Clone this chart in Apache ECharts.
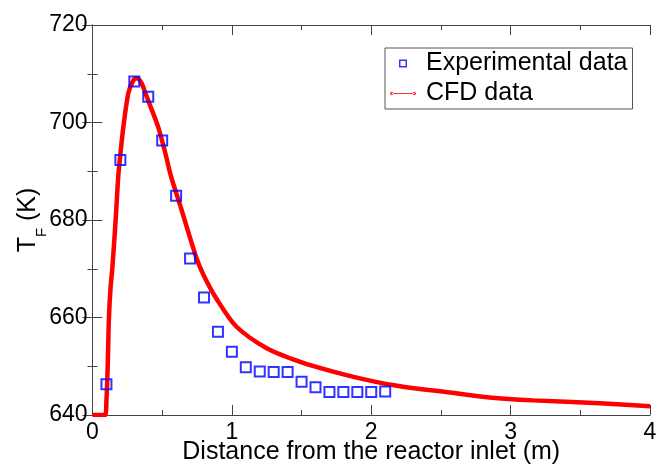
<!DOCTYPE html>
<html>
<head>
<meta charset="utf-8">
<script src="https://cdn.jsdelivr.net/npm/echarts@6/dist/echarts.min.js"></script>
<style>html,body{margin:0;padding:0;background:#fff}#c{width:658px;height:466px}</style>
</head>
<body>
<div id="c"></div>
<script>
var expX = [0.1, 0.2, 0.3, 0.4, 0.5, 0.6, 0.7, 0.8, 0.9, 1.0, 1.1, 1.2, 1.3, 1.4, 1.5, 1.6, 1.7, 1.8, 1.9, 2.0, 2.1];
var expY = [646.3, 692.3, 708.4, 705.3, 696.3, 685.0, 672.1, 664.1, 657.1, 653.0, 649.8, 648.9, 648.8, 648.8, 646.8, 645.7, 644.7, 644.7, 644.7, 644.7, 644.8];
var cfdX = [0, 0.09, 0.1, 0.109, 0.118, 0.13, 0.142, 0.166, 0.185, 0.2, 0.221, 0.257, 0.29, 0.317, 0.35, 0.38, 0.42, 0.472, 0.52, 0.563, 0.628, 0.747, 0.8, 0.886, 1.03, 1.25, 1.49, 1.727, 1.967, 2.206, 2.565, 2.85, 3.16, 3.64, 4.0];
var cfdY = [640, 640, 643, 650, 660, 666.3, 670, 680, 689, 693.5, 699, 706, 708.5, 709.1, 708.2, 706, 703, 699, 694, 689, 683.1, 672.1, 668.5, 664.0, 658.2, 653.7, 650.9, 648.9, 647.2, 645.9, 644.6, 643.6, 643.0, 642.4, 641.8];
var xTicks = [0, 1, 2, 3, 4];
var yTicks = [640, 660, 680, 700, 720];

var FONT = 'Liberation Sans';
var AX = '#444';
function pairs(xs, ys) { return xs.map(function (x, i) { return [x, ys[i]]; }); }

var chart = echarts.init(document.getElementById('c'), null, {renderer: 'canvas'});
var baseX = {
  type: 'value', min: xTicks[0], max: xTicks[xTicks.length - 1], interval: 1,
  axisLine: {lineStyle: {color: AX, width: 1}},
  axisTick: {inside: true, length: 10, lineStyle: {color: AX}},
  minorTick: {show: true, splitNumber: 2, length: 5, lineStyle: {color: AX}},
  splitLine: {show: false}
};
var baseY = {
  type: 'value', min: yTicks[0], max: yTicks[yTicks.length - 1], interval: 20,
  axisLine: {lineStyle: {color: AX, width: 1}},
  axisTick: {inside: true, length: 10, lineStyle: {color: AX}},
  minorTick: {show: true, splitNumber: 2, length: 5, lineStyle: {color: AX}},
  splitLine: {show: false}
};
chart.setOption({
  animation: false,
  textStyle: {fontFamily: FONT},
  grid: {left: 92.5, right: 8, top: 25, bottom: 51, containLabel: false, outerBoundsMode: 'none'},
  xAxis: [
    Object.assign({}, baseX, {
      position: 'bottom',
      axisLabel: {show: true, color: '#000', fontSize: 23, fontFamily: FONT, margin: 6},
      name: 'Distance from the reactor inlet (m)', nameLocation: 'middle', nameGap: 25, nameMoveOverlap: false,
      nameTextStyle: {color: '#000', fontSize: 25, fontFamily: FONT}
    }),
    Object.assign({}, baseX, {position: 'top', axisLabel: {show: false}})
  ],
  yAxis: [
    Object.assign({}, baseY, {
      position: 'left',
      axisLabel: {show: true, color: '#000', fontSize: 23, fontFamily: FONT, margin: 5},
      name: '{a|T}{b|F}{a| (K)}', nameLocation: 'middle', nameRotate: 90, nameGap: 52, nameMoveOverlap: false,
      nameTextStyle: {
        color: '#000', fontFamily: FONT,
        rich: {
          a: {fontSize: 25, lineHeight: 25, fontFamily: FONT, color: '#000'},
          b: {fontSize: 15, lineHeight: 15, padding: [28, 0, 0, 0], fontFamily: FONT, color: '#000'}
        }
      }
    }),
    Object.assign({}, baseY, {position: 'right', axisLabel: {show: false}})
  ],
  legend: {
    orient: 'vertical', left: 385, top: 48,
    padding: [3, 5, 3, 5], itemGap: 5,
    itemWidth: 26, itemHeight: 8,
    borderColor: '#555', borderWidth: 1,
    textStyle: {fontSize: 25, color: '#000', fontFamily: FONT, padding: [0, 0, 0, 5]},
    data: [
      {name: 'Experimental data', icon: 'path://M0,0 L8,0 L8,8 L0,8 Z M1.5,1.5 L1.5,6.5 L6.5,6.5 L6.5,1.5 Z', itemStyle: {color: '#0000ff', borderWidth: 0}},
      {name: 'CFD data', icon: 'path://M2,2.4 m-1.6,0 a1.6,1.6 0 1,0 3.2,0 a1.6,1.6 0 1,0 -3.2,0 M24,2.4 m-1.6,0 a1.6,1.6 0 1,0 3.2,0 a1.6,1.6 0 1,0 -3.2,0 M2,1.9 L24,1.9 L24,2.9 L2,2.9 Z', itemStyle: {color: '#ff3030', borderWidth: 0}}
    ]
  },
  series: [
    {
      name: 'CFD data', type: 'line', data: pairs(cfdX, cfdY),
      smooth: 0.3, showSymbol: false, symbol: 'none',
      lineStyle: {color: '#ff0000', width: 4.5}, itemStyle: {color: '#ff0000'}, z: 2
    },
    {
      name: 'Experimental data', type: 'scatter', data: pairs(expX, expY),
      symbol: 'rect', symbolSize: 10,
      itemStyle: {color: 'rgba(0,0,0,0)', borderColor: '#0000ff', borderWidth: 2}, z: 3
    }
  ]
});
</script>
</body>
</html>
